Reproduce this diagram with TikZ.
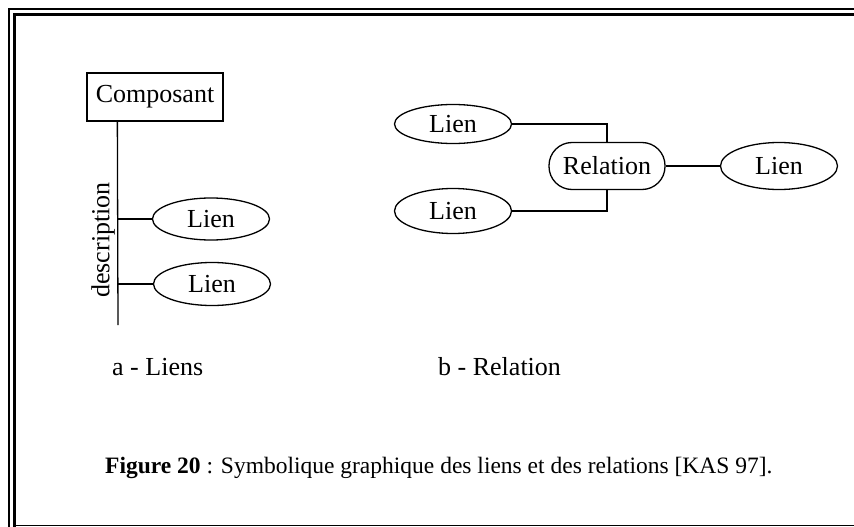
\documentclass[tikz,border=0pt]{standalone}
\usepackage{fontspec}
\setmainfont{Liberation Serif}
\usetikzlibrary{shapes.geometric}
\begin{document}
\begin{tikzpicture}[x=1pt,y=-1pt,
  every node/.style={font=\fontsize{26}{30}\selectfont},
  link/.style={draw, ellipse, inner sep=0pt, minimum width=117pt, fill=white, line width=1.3pt},
  box/.style={draw, rectangle, inner sep=0pt, line width=1.3pt},
  relbox/.style={draw, rectangle, rounded corners=23pt, inner sep=0pt, line width=1.3pt,
                 minimum width=116pt, minimum height=47pt},
  conn/.style={line width=1.3pt},
  label/.style={anchor=base west, inner sep=0pt}]
\useasboundingbox (0,0) rectangle (854,527);
\clip (0,0) rectangle (854,527);

% double frame
\draw[line width=2pt] (9,560) -- (9,9) -- (880,9);
\draw[line width=3pt] (14.5,560) -- (14.5,14.5) -- (880,14.5);
\draw[line width=1.5pt] (16,525.5) -- (880,525.5);

% a - links of a component
\node[box, minimum width=136pt, minimum height=48pt] (comp) at (155,97) {Composant};
\coordinate (trunkTop) at ([xshift=31pt]comp.south west);
\coordinate (trunkEnd) at (118,325);
\draw[conn] (trunkTop) -- (trunkEnd);
\node[link, minimum height=42pt] (l1) at (211,219) {Lien};
\node[link, minimum height=43pt] (l2) at (212,284) {Lien};
\draw[conn] (l1.west -| trunkTop) -- (l1.west);
\draw[conn] (l2.west -| trunkTop) -- (l2.west);
\node[rotate=90, inner sep=0pt] (desc) at (103,240) {description};

% b - relation between links
\node[relbox] (rel) at (607,166) {Relation};
\node[link, minimum height=39pt] (r1) at (453,124) {Lien};
\node[link, minimum height=45pt] (r2) at (453,211) {Lien};
\node[link, minimum height=47pt] (r3) at (779,166) {Lien};
\draw[conn] (r1.east) -| (rel.north);
\draw[conn] (r2.east) -| (rel.south);
\draw[conn] (rel.east) -- (r3.west);

% captions
\node[label] (capa) at (112,375) {a - Liens};
\node[label] (capb) at (438,375) {b - Relation};
\node[label, font=\fontsize{23.5}{28}\selectfont] (fig) at (105,473)
  {\textbf{Figure 20} : Symbolique graphique des liens et des relations [KAS 97].};
\end{tikzpicture}
\end{document}
